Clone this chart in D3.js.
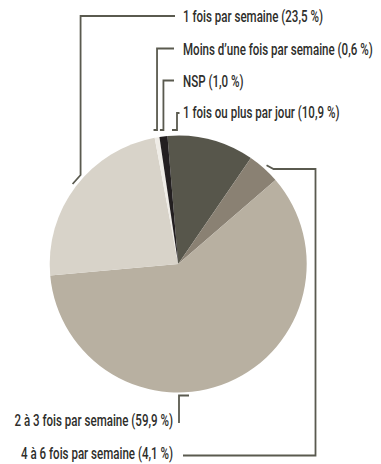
<!DOCTYPE html>
<html>
<head>
<meta charset="utf-8">
<script src="https://cdn.jsdelivr.net/npm/d3@7"></script>
<style>
  html, body { margin: 0; padding: 0; background: #fff; }
  svg { display: block; }
</style>
</head>
<body>
<svg id="chart" width="381" height="464"></svg>
<script>
// Fréquence déclarée — parts en %
const categories = [
  "1 fois ou plus par jour",
  "4 à 6 fois par semaine",
  "2 à 3 fois par semaine",
  "1 fois par semaine",
  "Moins d’une fois par semaine",
  "NSP"
];
const values = [10.9, 4.1, 59.9, 23.5, 0.6, 1.0];
const colors = ["#57564b", "#8a8173", "#b8b0a1", "#d8d3c9", "#efece6", "#231f20"];

const svg = d3.select("#chart");
const cx = 178.2, cy = 264, r = 128.5;
const startAngle = -4.8 * Math.PI / 180;

const fr = d3.formatLocale({ decimal: ",", thousands: " ", grouping: [3], currency: ["", " €"] });
const fmt = fr.format(".1f");
const label = i => `${categories[i]} (${fmt(values[i])} %)`;

const pie = d3.pie().sort(null).value(d => d)
  .startAngle(startAngle).endAngle(startAngle + 2 * Math.PI);
const arcs = pie(values);
const arc = d3.arc().innerRadius(0).outerRadius(r);

const g = svg.append("g").attr("transform", `translate(${cx},${cy})`);
g.selectAll("path").data(arcs).join("path")
  .attr("d", arc)
  .attr("fill", (d, i) => colors[i]);

// point on a circle of radius rr at angle a (d3 convention: 0 = top, clockwise)
const pt = (a, rr) => [cx + rr * Math.sin(a), cy - rr * Math.cos(a)];
const mid = d => (d.startAngle + d.endAngle) / 2;

const lineColor = "#5a5a4f";
const textColor = "#2e2e2b";
const line = d3.line();
const leaders = svg.append("g").attr("fill", "none").attr("stroke", lineColor)
  .attr("stroke-width", 1.8).attr("stroke-linejoin", "miter");

const textX = 183, sx = 0.68, fs = 17;
function addText(txt, x, y, anchor) {
  svg.append("text")
    .attr("transform", `translate(${x},${y}) scale(${sx},1)`)
    .attr("text-anchor", anchor)
    .attr("font-family", "Roboto, 'DejaVu Sans Condensed', sans-serif")
    .attr("font-size", fs)
    .attr("font-weight", 500)
    .attr("fill", textColor)
    .text(txt);
}

// Upper labels
const topRows = [
  { i: 3, y: 22 },
  { i: 4, y: 54.5 },
  { i: 5, y: 86.5 },
  { i: 0, y: 118 }
];
topRows.forEach(row => addText(label(row.i), textX, row.y, "start"));

// 1 fois par semaine : coude à gauche du disque
{
  const a = mid(arcs[3]);
  const [x0, y0] = pt(a, r + 4);
  const ly = 16;
  leaders.append("path").attr("d", line([
    [x0, y0], [x0 + 8, y0 - 9], [x0 + 8, ly], [textX - 8, ly]
  ]));
}
// Moins d'une fois / NSP : crochets au sommet
[[4, 48.5], [5, 80.5]].forEach(([i, ly]) => {
  const a = mid(arcs[i]);
  const [x0] = pt(a, r);
  const yb = 130;
  leaders.append("path").attr("d", line([
    [x0 - 3.5, yb], [x0, yb], [x0, ly], [textX - 9, ly]
  ]));
});
// 1 fois ou plus par jour
{
  const x0 = 177, yb = 130;
  leaders.append("path").attr("d", line([
    [x0 - 5, yb], [x0, yb], [x0, 113], [x0 + 2.5, 113]
  ]));
}

// Lower labels
addText(label(2), 173, 426, "end");
addText(label(1), 173, 459, "end");

// 2 à 3 fois par semaine
leaders.append("path").attr("d", line([
  [179, 423], [179, 395.5], [189, 395.5]
]));
// 4 à 6 fois par semaine
{
  const a = mid(arcs[1]);
  const [x0, y0] = pt(a, r + 4);
  const xr = 315.5, ly = 169;
  leaders.append("path").attr("d", line([
    [x0, y0], [x0 + 7, ly], [xr, ly], [xr, 455.5], [183, 455.5]
  ]));
}
</script>
</body>
</html>
